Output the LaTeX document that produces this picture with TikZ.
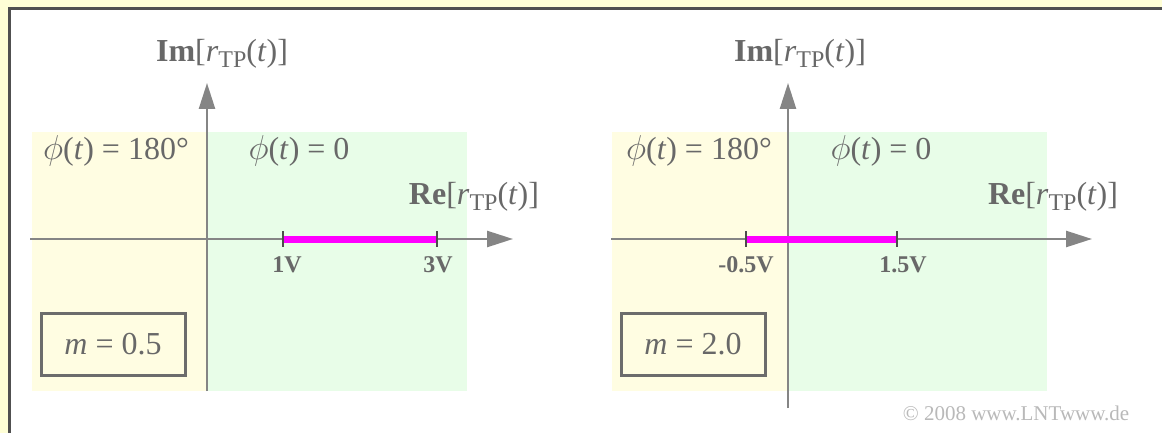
\documentclass[tikz,border=0pt]{standalone}
\usepackage{fontspec}
\setmainfont{Liberation Serif}
\usetikzlibrary{arrows.meta}
\definecolor{outerY}{HTML}{FFFFD6}
\definecolor{shadeY}{HTML}{FFFDE2}
\definecolor{shadeG}{HTML}{E8FDE8}
\definecolor{txt}{HTML}{686868}
\definecolor{axisc}{HTML}{858585}
\definecolor{framec}{HTML}{505050}
\definecolor{segc}{HTML}{FF00FF}
\newcommand{\lowTP}{\raisebox{-0.35ex}{\fontsize{12}{12}\selectfont TP}}
\newcommand{\rTP}{\textit{r}\lowTP(\textit{t})}
\newcommand{\phit}{$\phi$(\textit{t})}
\tikzset{
  lab/.style={text=txt, font=\fontsize{16}{18}\selectfont, inner sep=0pt, anchor=base},
  ticklab/.style={text=txt, font=\fontsize{12}{14}\selectfont\bfseries, inner sep=0pt, anchor=base},
  axis/.style={draw=axisc, line width=1.25pt, -{Triangle[length=13pt,width=8pt]}},
  seg/.style={draw=segc, line width=3.5pt},
  tickm/.style={draw=black!70, line width=0.75pt},
  mbox/.style={draw=gray!85!black, line width=1.5pt, minimum width=72pt, minimum height=31pt, text=txt, font=\fontsize{16}{18}\selectfont, inner sep=0pt},
}
\begin{document}
\begin{tikzpicture}[x=0.5pt, y=-0.5pt]
\useasboundingbox (0,0) rectangle (1162,433);
\fill[outerY] (0,0) rectangle (1162,433);
\fill[white] (9,9) rectangle (1170,440);
\draw[framec, line width=1.5pt] (9,440) -- (9,9) -- (1170,9);
% shades
\fill[shadeY] (32,132) rectangle (207,391);
\fill[shadeG] (207,132) rectangle (467,391);
\fill[shadeY] (612,132) rectangle (788,391);
\fill[shadeG] (788,132) rectangle (1047,391);
% left panel coordinates
\coordinate (LxS) at (30,239);
\coordinate (LxE) at (513,239);
\coordinate (LyS) at (207,391);
\coordinate (LyE) at (207,83);
\coordinate (La) at (283,239);
\coordinate (Lb) at (437,239);
\draw[axis] (LxS) -- (LxE);
\draw[axis] (LyS) -- (LyE);
\draw[seg] (La) -- (Lb);
\draw[tickm] ([yshift=4pt]La) -- ([yshift=-4pt]La);
\draw[tickm] ([yshift=4pt]Lb) -- ([yshift=-4pt]Lb);
\node[lab] (Lim) at (222,62) {\textbf{Im}[\rTP]};
\node[lab] (Lre) at (474,205) {\textbf{Re}[\rTP]};
\node[lab] (Lp1) at (116,160) {\phit{} = 180°};
\node[lab] (Lp0) at (299,160) {\phit{} = 0};
\node[ticklab] (L1) at (287,272) {1V};
\node[ticklab] (L3) at (438,272) {3V};
\node[mbox] (Lm) at (113,344) {\textit{m} = 0.5};
% right panel coordinates
\coordinate (RxS) at (611,239);
\coordinate (RxE) at (1092,239);
\coordinate (RyS) at (788,408);
\coordinate (RyE) at (788,83);
\coordinate (Ra) at (746,239);
\coordinate (Rb) at (897,239);
\draw[axis] (RxS) -- (RxE);
\draw[axis] (RyS) -- (RyE);
\draw[seg] (Ra) -- (Rb);
\draw[tickm] ([yshift=4pt]Ra) -- ([yshift=-4pt]Ra);
\draw[tickm] ([yshift=4pt]Rb) -- ([yshift=-4pt]Rb);
\node[lab] (Rim) at (800,62) {\textbf{Im}[\rTP]};
\node[lab] (Rre) at (1053,205) {\textbf{Re}[\rTP]};
\node[lab] (Rp1) at (699,160) {\phit{} = 180°};
\node[lab] (Rp0) at (881,160) {\phit{} = 0};
\node[ticklab] (Rm05) at (746,272) {-0.5V};
\node[ticklab] (R15) at (903,272) {1.5V};
\node[mbox] (Rm) at (693,344) {\textit{m} = 2.0};
\node[text=gray!55, font=\fontsize{10.5}{12}\selectfont, inner sep=0pt, anchor=base] (copy) at (1016,420) {© 2008 www.LNTwww.de};
\end{tikzpicture}
\end{document}
